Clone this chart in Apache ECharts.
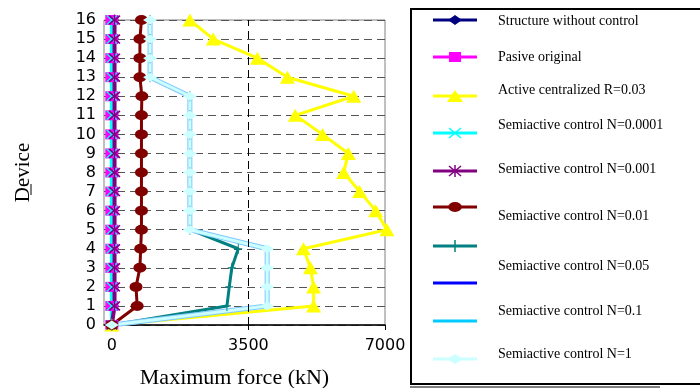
<!DOCTYPE html>
<html>
<head>
<meta charset="utf-8">
<script src="https://cdn.jsdelivr.net/npm/echarts@6/dist/echarts.min.js"></script>
<style>html,body{margin:0;padding:0;background:#fff}#c{width:700px;height:388px}</style>
</head>
<body>
<div id="c"></div>
<script>
// ---- data ----
var devices = [0,1,2,3,4,5,6,7,8,9,10,11,12,13,14,15,16];
var xTicks = [0, 3500, 7000];
var seriesNames = [
  'Structure without control',
  'Pasive original',
  'Active centralized R=0.03',
  'Semiactive control N=0.0001',
  'Semiactive control N=0.001',
  'Semiactive control N=0.01',
  'Semiactive control N=0.05',
  'Semiactive control N=0.05 (b)',
  'Semiactive control N=0.1',
  'Semiactive control N=1'
];
var structureWithout = [0,30,30,30,30,30,30,30,30,30,30,30,30,30,30,30,30];
var pasiveOriginal   = [0,0,0,0,0,0,0,0,0,0,0,0,0,0,0,0,0];
var activeCentral    = [0,5170,5170,5090,4910,7050,6760,6350,5940,6060,5400,4700,6200,4500,3730,2600,2000];
var semiN00001       = [0,0,0,0,0,0,0,0,0,0,0,0,0,0,0,0,0];
var semiN0001        = [0,70,70,70,70,70,70,70,70,70,70,70,70,70,70,70,70];
var semiN001         = [0,650,620,720,740,760,760,760,760,760,760,760,770,720,720,720,760];
var semiN005         = [0,2950,3010,3075,3240,2000,2000,2000,2000,2000,2000,2000,2000,980,980,980,980];
var semiN005b        = [0,3980,3980,3980,3980,2000,2000,2000,2000,2000,2000,2000,2000,980,980,980,980];
var semiN01          = [0,3980,3980,3980,3980,2000,2000,2000,2000,2000,2000,2000,2000,980,980,980,980];
var semiN1           = [0,3980,3980,3980,3980,2000,2000,2000,2000,2000,2000,2000,2000,980,980,980,980];
var legendTexts = [
  'Structure without control',
  'Pasive original',
  'Active centralized R=0.03',
  'Semiactive control N=0.0001',
  'Semiactive control N=0.001',
  'Semiactive control N=0.01',
  'Semiactive control N=0.05',
  'Semiactive control N=0.1',
  'Semiactive control N=1'
];

function pairs(vals){ return vals.map(function(v,i){ return [v, devices[i]]; }); }

var X_PATH = 'path://M0,1L1,0L5,4L9,0L10,1L6,5L10,9L9,10L5,6L1,10L0,9L4,5Z';
var AST_PATH = 'path://M0,1.5L1,0.5L4.4,3.9L4.4,0L5.6,0L5.6,3.9L9,0.5L10,1.5L6.4,5L10,8.5L9,9.5L5.6,6.1L5.6,10L4.4,10L4.4,6.1L1,9.5L0,8.5L3.6,5Z';
var PLUS_PATH = 'path://M4.4,0H5.6V4.4H10V5.6H5.6V10H4.4V5.6H0V4.4H4.4Z';

function mk(name, vals, color, width, symbol, size, extra){
  var s = {
    type:'line', name:name, data:pairs(vals),
    lineStyle:{color:color, width:width},
    itemStyle:{color:color, borderWidth:0},
    symbol:symbol, symbolSize:size, showSymbol: symbol !== 'none',
    clip:false, animation:false, emphasis:{disabled:true}
  };
  if (extra) for (var k in extra) s[k] = extra[k];
  return s;
}

var series = [
  mk(seriesNames[0], structureWithout, '#000080', 3, 'diamond', [12,10]),
  mk(seriesNames[1], pasiveOriginal, '#ff00ff', 3, 'rect', [13,10]),
  mk(seriesNames[2], activeCentral, '#ffff00', 3, 'triangle', [15,13], {
    markLine:{silent:true, symbol:'none', label:{show:false}, animation:false,
      lineStyle:{color:'#000', type:[8,5], width:1},
      data:[{xAxis:xTicks[1]}]}
  }),
  mk(seriesNames[3], semiN00001, '#00ffff', 4, X_PATH, [11,10]),
  mk(seriesNames[4], semiN0001, '#800080', 4, AST_PATH, [12,11]),
  mk(seriesNames[5], semiN001, '#800000', 3, 'circle', [13,10]),
  mk(seriesNames[6], semiN005, '#008080', 3, PLUS_PATH, [8,10]),
  mk(seriesNames[7], semiN005b, '#0000ff', 2, 'none', 0),
  mk(seriesNames[8], semiN01, '#80c8ff', 5, 'none', 0),
  mk(seriesNames[9], semiN1, '#ccffff', 3, 'diamond', [14,9])
];

// ---- legend drawn as graphic ----
var lineYs = [20,57,96,133,171,207,246,283,321,359];
var textYs = [21,57,90,125,169,216,266,311,354];
var legColors = ['#000080','#ff00ff','#ffff00','#00ffff','#800080','#800000','#008080','#0000ff','#00ccff','#ccffff'];
var g = [];
g.push({type:'rect', shape:{x:411, y:9, width:300, height:375}, style:{fill:'#fff', stroke:'#000', lineWidth:2}, z:10});
g.push({type:'line', shape:{x1:410, y1:387, x2:660, y2:387}, style:{stroke:'#000', lineWidth:1}, z:10});
var cx = 455;
function ln(x1,y1,x2,y2,c){ return {type:'line', shape:{x1:x1,y1:y1,x2:x2,y2:y2}, style:{stroke:c,lineWidth:1.5}, z:12}; }
lineYs.forEach(function(y,i){
  var c = legColors[i];
  g.push({type:'line', shape:{x1:433,y1:y,x2:477,y2:y}, style:{stroke:c, lineWidth:3}, z:11});
  if (i===0) g.push({type:'polygon', shape:{points:[[cx-7,y],[cx,y-5],[cx+7,y],[cx,y+5]]}, style:{fill:c}, z:12});
  if (i===1) g.push({type:'rect', shape:{x:cx-6,y:y-5,width:12,height:10}, style:{fill:c}, z:12});
  if (i===2) g.push({type:'polygon', shape:{points:[[cx-8,y+6],[cx,y-6],[cx+8,y+6]]}, style:{fill:c}, z:12});
  if (i===3){ g.push(ln(cx-6,y-5,cx+6,y+5,c)); g.push(ln(cx-6,y+5,cx+6,y-5,c)); }
  if (i===4){ g.push(ln(cx-6,y-5,cx+6,y+5,c)); g.push(ln(cx-6,y+5,cx+6,y-5,c)); g.push(ln(cx,y-6,cx,y+6,c)); }
  if (i===5) g.push({type:'circle', shape:{cx:0,cy:0,r:5}, x:cx, y:y, scaleX:1.35, style:{fill:c}, z:12});
  if (i===6) g.push(ln(cx,y-6,cx,y+6,c));
  if (i===9) g.push({type:'polygon', shape:{points:[[cx-8,y],[cx,y-5],[cx+8,y],[cx,y+5]]}, style:{fill:c}, z:12});
});
textYs.forEach(function(y,i){
  g.push({type:'text', x:498, y:y, style:{text:legendTexts[i], fill:'#000', fontSize:14, fontFamily:'"Liberation Serif", serif', verticalAlign:'middle', align:'left'}, z:12});
});
g.push({type:'line', shape:{x1:31,y1:184,x2:31,y2:195}, style:{stroke:'#000', lineWidth:1}});

var chart = echarts.init(document.getElementById('c'), null, {renderer:'canvas'});
chart.setOption({
  animation:false,
  backgroundColor:'#fff',
  grid:{left:104, right:315, top:20, bottom:63, show:true, borderColor:'#808080', borderWidth:1, backgroundColor:'transparent', containLabel:false, outerBoundsMode:'none'},
  xAxis:{
    type:'value', min:-200, max:7000,
    name:'Maximum force (kN)', nameLocation:'middle', nameGap:42,
    nameTextStyle:{fontFamily:'"Liberation Serif", serif', fontSize:22, color:'#000', padding:[0,20,0,0]},
    axisLine:{show:true, lineStyle:{color:'#000', width:1.5}},
    axisTick:{show:true, customValues:xTicks, length:5, lineStyle:{color:'#000'}},
    axisLabel:{customValues:xTicks, color:'#000', fontFamily:'"DejaVu Sans", sans-serif', fontSize:16, margin:13,
      formatter:function(v){ return String(v); }},
    splitLine:{show:false}
  },
  yAxis:{
    type:'value', min:0, max:16, interval:1,
    name:'Device', nameLocation:'middle', nameGap:70, nameRotate:90,
    nameTextStyle:{fontFamily:'"Liberation Serif", serif', fontSize:21, color:'#000'},
    axisLine:{show:false},
    axisTick:{show:false},
    axisLabel:{color:'#000', fontFamily:'"DejaVu Sans", sans-serif', fontSize:16, margin:8},
    splitLine:{show:true, lineStyle:{color:'#555', type:[8,5], width:1}}
  },
  series:series,
  graphic:g
});
</script>
</body>
</html>
